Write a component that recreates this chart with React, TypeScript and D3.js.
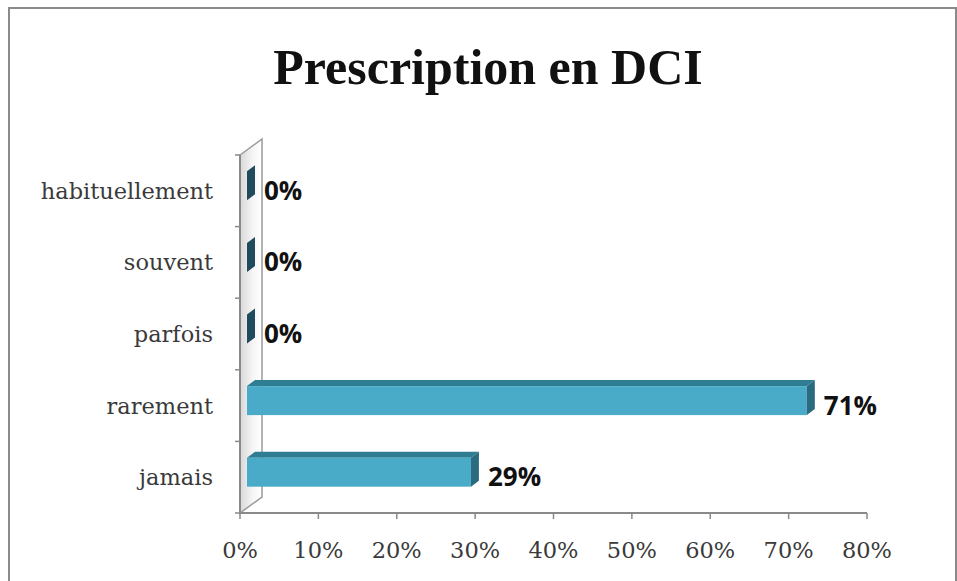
import React from "react";
import * as d3 from "d3";

const categories = ["habituellement", "souvent", "parfois", "rarement", "jamais"];
const values = [0, 0, 0, 71.43, 28.57];
const valueLabels = ["0%", "0%", "0%", "71%", "29%"];
const xTicks = [0, 10, 20, 30, 40, 50, 60, 70, 80];
const title = "Prescription en DCI";

export default function App() {
  const W = 957, H = 581;
  const x = d3.scaleLinear().domain([0, 80]).range([240, 867]);
  const y = d3.scaleBand<string>().domain(categories).range([155, 513]).paddingInner(0).paddingOuter(0);
  const wall = { dx: 22, dy: -16 };
  const z0 = { dx: 7, dy: -5 };
  const z1 = { dx: 15, dy: -11 };
  const barH = 29;
  const x0 = x(0);
  const yTop = 155, yBot = 513;
  const bandEdges = categories.map((c) => y(c) as number).concat([yBot]);

  return (
    <svg width={W} height={H} style={{ position: "absolute", left: 0, top: 0, background: "#fff" }}>
      <defs>
        <linearGradient id="wallG" x1="0" x2="1" y1="0" y2="0">
          <stop offset="0" stopColor="#d8d8d8" />
          <stop offset="0.6" stopColor="#f6f6f6" />
          <stop offset="1" stopColor="#ffffff" />
        </linearGradient>
      </defs>
      <rect x={9} y={8} width={947} height={620} fill="#fff" stroke="#8a8a8a" strokeWidth={2} />
      <text x={488} y={84} textAnchor="middle" fontFamily="'Liberation Serif', serif" fontWeight="bold" fontSize={50} fill="#111">
        {title}
      </text>

      {/* wall */}
      <polygon
        points={`${x0},${yTop} ${x0 + wall.dx},${yTop + wall.dy} ${x0 + wall.dx},${yBot + wall.dy} ${x0},${yBot}`}
        fill="url(#wallG)"
        stroke="#9a9a9a"
        strokeWidth={1.5}
      />
      {/* axes */}
      <line x1={x0} y1={yTop} x2={x0} y2={yBot} stroke="#8a8a8a" strokeWidth={2} />
      <line x1={x0} y1={yBot} x2={x(80)} y2={yBot} stroke="#8a8a8a" strokeWidth={2} />
      {bandEdges.map((e, i) => (
        <line key={"yt" + i} x1={x0 - 5} y1={e} x2={x0} y2={e} stroke="#8a8a8a" strokeWidth={1.5} />
      ))}
      {xTicks.map((t) => (
        <g key={"xt" + t}>
          <line x1={x(t)} y1={yBot} x2={x(t)} y2={yBot + 6} stroke="#8a8a8a" strokeWidth={1.5} />
          <text x={x(t)} y={558} textAnchor="middle" fontFamily="'DejaVu Serif', serif" fontSize={22.5} fill="#3a3a3a">
            {t + "%"}
          </text>
        </g>
      ))}

      {categories.map((c, i) => {
        const cy = (y(c) as number) + y.bandwidth() / 2;
        const fc = cy - 5;
        const yt = fc - barH / 2;
        const yb = fc + barH / 2;
        const xl = x(0) + z0.dx;
        const xr = x(values[i]) + z0.dx;
        const ddx = z1.dx - z0.dx, ddy = z1.dy - z0.dy;
        return (
          <g key={c}>
            <text x={213} y={cy + 8} textAnchor="end" fontFamily="'DejaVu Serif', serif" fontSize={22.5} fill="#3a3a3a">
              {c}
            </text>
            {values[i] > 0 && (
              <>
                <polygon
                  points={`${xl},${yt} ${xl + ddx},${yt + ddy} ${xr + ddx},${yt + ddy} ${xr},${yt}`}
                  fill="#2f7d93"
                />
                <rect x={xl} y={yt} width={xr - xl} height={barH} fill="#4aabc8" />
              </>
            )}
            <polygon
              points={`${xr},${yt} ${xr + ddx},${yt + ddy} ${xr + ddx},${yb + ddy} ${xr},${yb}`}
              fill={values[i] > 0 ? "#2a6b80" : "#1f4b5c"}
            />
            <text
              x={xr + ddx + 9}
              y={cy + 9}
              fontFamily="'Open Sans', sans-serif"
              fontWeight="bold"
              fontSize={26}
              fill="#111"
            >
              {valueLabels[i]}
            </text>
          </g>
        );
      })}
    </svg>
  );
}
